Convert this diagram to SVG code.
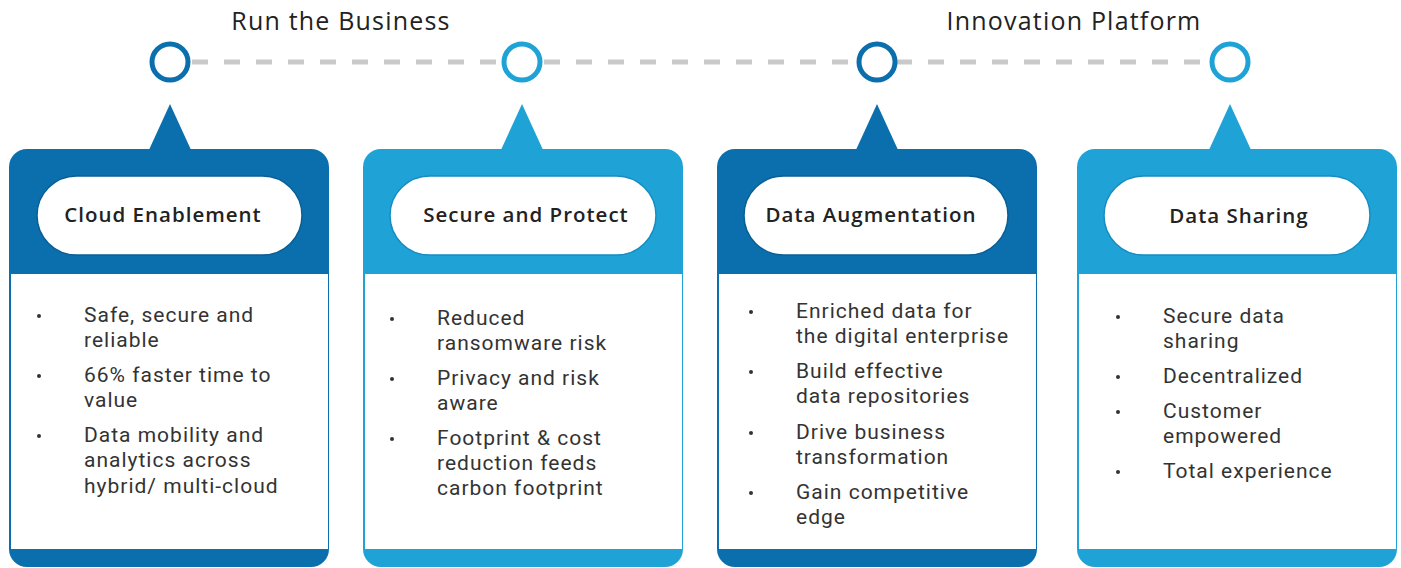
<svg xmlns="http://www.w3.org/2000/svg" width="1401" height="568" viewBox="0 0 1401 568">
<style>
.dark{fill:#0b6fad}
.light{fill:#1fa3d6}
.ring-d{fill:#fff;stroke:#0b6fad;stroke-width:5}
.ring-l{fill:#fff;stroke:#1fa3d6;stroke-width:5}
.pill-d{fill:#fff;stroke:#0a5f95;stroke-width:1.5}
.pill-l{fill:#fff;stroke:#168cc2;stroke-width:1.5}
.head{font-family:"Open Sans","Noto Sans",sans-serif;font-size:25px;letter-spacing:1.2px;fill:#222;text-anchor:middle}
.title{font-family:"Open Sans","Noto Sans",sans-serif;font-size:20.5px;letter-spacing:1px;font-weight:600;fill:#222;text-anchor:middle}
.item{font-family:Roboto,"Open Sans",sans-serif;font-size:21px;letter-spacing:1px;fill:#333}
.dot{fill:#333}
</style>
<g id="headings">
<text class="head" x="341" y="30">Run the Business</text>
<text class="head" x="1074" y="30">Innovation Platform</text>
</g>
<g id="connectors">
<line x1="192" y1="62" x2="1208" y2="62" stroke="#c9c9c9" stroke-width="5" stroke-dasharray="16 16"/>
</g>
<g id="milestone-1"><circle class="ring-d" cx="170" cy="62" r="18"/></g>
<g id="milestone-2"><circle class="ring-l" cx="522" cy="62" r="18"/></g>
<g id="milestone-3"><circle class="ring-d" cx="877" cy="62" r="18"/></g>
<g id="milestone-4"><circle class="ring-l" cx="1230" cy="62" r="18"/></g>

<g id="card-cloud">
<path class="dark" d="M148 152 L170 104 L192 152 Z"/>
<rect class="dark" x="9" y="149" width="320" height="418" rx="18"/>
<rect x="11" y="274" width="317" height="275" fill="#fff"/>
<rect class="pill-d" x="37" y="176" width="265" height="79" rx="39.5"/>
<text class="title" x="163" y="222">Cloud Enablement</text>
<circle class="dot" cx="39" cy="316" r="2"/>
<circle class="dot" cx="39" cy="376" r="2"/>
<circle class="dot" cx="39" cy="436" r="2"/>
<text class="item" x="84" y="322">Safe, secure and<tspan x="84" dy="25">reliable</tspan></text>
<text class="item" x="84" y="382">66% faster time to<tspan x="84" dy="25">value</tspan></text>
<text class="item" x="84" y="442">Data mobility and<tspan x="84" dy="25">analytics across</tspan><tspan x="84" dy="26">hybrid/ multi-cloud</tspan></text>
</g>

<g id="card-secure">
<path class="light" d="M500 152 L522 104 L544 152 Z"/>
<rect class="light" x="363" y="149" width="320" height="418" rx="18"/>
<rect x="365" y="274" width="317" height="275" fill="#fff"/>
<rect class="pill-l" x="390" y="176" width="266" height="79" rx="39.5"/>
<text class="title" x="526" y="222">Secure and Protect</text>
<circle class="dot" cx="392" cy="319" r="2"/>
<circle class="dot" cx="392" cy="379" r="2"/>
<circle class="dot" cx="392" cy="439" r="2"/>
<text class="item" x="437" y="325">Reduced<tspan x="437" dy="25">ransomware risk</tspan></text>
<text class="item" x="437" y="385">Privacy and risk<tspan x="437" dy="25">aware</tspan></text>
<text class="item" x="437" y="445">Footprint &amp; cost<tspan x="437" dy="25">reduction feeds</tspan><tspan x="437" dy="25">carbon footprint</tspan></text>
</g>

<g id="card-augmentation">
<path class="dark" d="M855 152 L877 104 L899 152 Z"/>
<rect class="dark" x="717" y="149" width="320" height="418" rx="18"/>
<rect x="719" y="274" width="317" height="275" fill="#fff"/>
<rect class="pill-d" x="744" y="176" width="264" height="79" rx="39.5"/>
<text class="title" x="871" y="222">Data Augmentation</text>
<circle class="dot" cx="751" cy="312" r="2"/>
<circle class="dot" cx="751" cy="372" r="2"/>
<circle class="dot" cx="751" cy="433" r="2"/>
<circle class="dot" cx="751" cy="493" r="2"/>
<text class="item" x="796" y="318">Enriched data for<tspan x="796" dy="25">the digital enterprise</tspan></text>
<text class="item" x="796" y="378">Build effective<tspan x="796" dy="25">data repositories</tspan></text>
<text class="item" x="796" y="439">Drive business<tspan x="796" dy="25">transformation</tspan></text>
<text class="item" x="796" y="499">Gain competitive<tspan x="796" dy="25">edge</tspan></text>
</g>

<g id="card-sharing">
<path class="light" d="M1208 152 L1230 104 L1252 152 Z"/>
<rect class="light" x="1077" y="149" width="320" height="418" rx="18"/>
<rect x="1079" y="274" width="317" height="275" fill="#fff"/>
<rect class="pill-l" x="1104" y="176" width="266" height="79" rx="39.5"/>
<text class="title" x="1239" y="223">Data Sharing</text>
<circle class="dot" cx="1118" cy="317" r="2"/>
<circle class="dot" cx="1118" cy="377" r="2"/>
<circle class="dot" cx="1118" cy="412" r="2"/>
<circle class="dot" cx="1118" cy="472" r="2"/>
<text class="item" x="1163" y="323">Secure data<tspan x="1163" dy="25">sharing</tspan></text>
<text class="item" x="1163" y="383">Decentralized</text>
<text class="item" x="1163" y="418">Customer<tspan x="1163" dy="25">empowered</tspan></text>
<text class="item" x="1163" y="478">Total experience</text>
</g>
</svg>
